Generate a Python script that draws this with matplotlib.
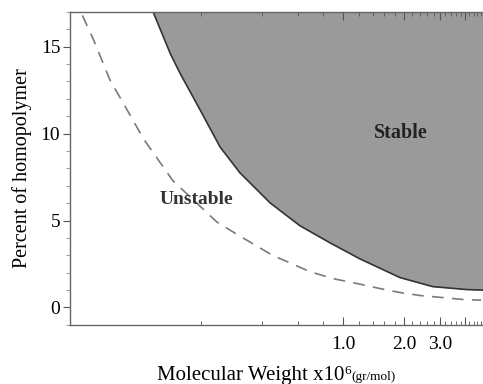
import matplotlib
matplotlib.use("Agg")
import matplotlib.pyplot as plt

plt.rcParams['font.family'] = ['Liberation Serif', 'DejaVu Serif']

# stability boundary (solid)
mw_solid = [0.116, 0.141, 0.157, 0.198, 0.248, 0.311, 0.437, 0.614, 0.863, 1.21, 1.91, 2.77, 4.08, 4.9]
pct_solid = [17.0, 14.6, 13.5, 11.35, 9.23, 7.74, 6.02, 4.7, 3.72, 2.8, 1.72, 1.2, 1.03, 1.0]

# dashed curve
mw_dash = [0.052, 0.059, 0.071, 0.091, 0.104, 0.145, 0.24, 0.311, 0.45, 0.688, 0.893, 1.17, 1.52, 1.91, 2.39, 3.1, 3.9, 4.8]
pct_dash = [16.8, 15.4, 13.1, 10.9, 9.7, 7.3, 4.9, 4.1, 3.0, 2.06, 1.66, 1.38, 1.09, 0.86, 0.69, 0.57, 0.46, 0.42]

xticks = [1.0, 2.0, 3.0, 4.0]
xticklabels = ['1.0', '2.0', '3.0', '']
xminor = [0.2, 0.4, 0.6, 0.8, 1.2, 1.4, 1.6, 1.8, 2.2, 2.4, 2.6, 2.8, 3.2, 3.4, 3.6, 3.8, 4.2, 4.4, 4.6, 4.8]
yticks = [0, 5, 10, 15]
yminor = list(range(-1, 18))

fig = plt.figure(figsize=(4.83, 3.84), dpi=100)
ax = fig.add_axes([0.145, 0.154, 0.855, 0.815])

ax.fill_between(mw_solid, pct_solid, 17, color='#9a9a9a', lw=0)
ax.plot(mw_solid, pct_solid, color='#333333', lw=1.2)
ax.plot(mw_dash, pct_dash, color='#7a7a7a', lw=1.2, dashes=(7, 5))

ax.set_xscale('log')
ax.set_xlim(0.0452, 4.9)
ax.set_ylim(-1, 17)

ax.set_xticks(xticks)
ax.set_xticklabels(xticklabels)
ax.set_xticks(xminor, minor=True)
ax.set_yticks(yticks)
ax.set_yticks(yminor, minor=True)
ax.xaxis.set_minor_formatter(matplotlib.ticker.NullFormatter())

ax.tick_params(axis='x', which='both', direction='in', top=True, labelsize=14, pad=8, color='#555555')
ax.tick_params(axis='x', which='major', length=6)
ax.tick_params(axis='x', which='minor', length=3)
ax.tick_params(axis='y', which='major', direction='out', length=5, labelsize=14, pad=2, color='#555555')
ax.tick_params(axis='y', which='minor', direction='out', length=3, color='#888888')

for s in ['top', 'bottom', 'left']:
    ax.spines[s].set_color('#666666')
    ax.spines[s].set_linewidth(1.0)
ax.spines['right'].set_visible(False)

ax.text(0.80, 0.613, 'Stable', transform=ax.transAxes, fontsize=14.5, fontweight='bold',
        ha='center', va='center', color='#222222')
ax.text(0.305, 0.40, 'Unstable', transform=ax.transAxes, fontsize=14, fontweight='bold',
        ha='center', va='center', color='#333333')

ax.set_ylabel('Percent of homopolymer', fontsize=14.5, labelpad=6)

# x label in three pieces: main text, superscript 6, small units
r = fig.canvas.get_renderer()
t1 = fig.text(157 / 483, 1 - 380 / 384, 'Molecular Weight x10', fontsize=15, va='baseline')
x1 = t1.get_window_extent(r).x1
t2 = fig.text(x1 / 483 + 0.001, 1 - 373.5 / 384, '6', fontsize=9.5, va='baseline')
x2 = t2.get_window_extent(r).x1
fig.text(x2 / 483, 1 - 380 / 384, '(gr/mol)', fontsize=9.5, va='baseline')

fig.savefig('out.png', dpi=100)
